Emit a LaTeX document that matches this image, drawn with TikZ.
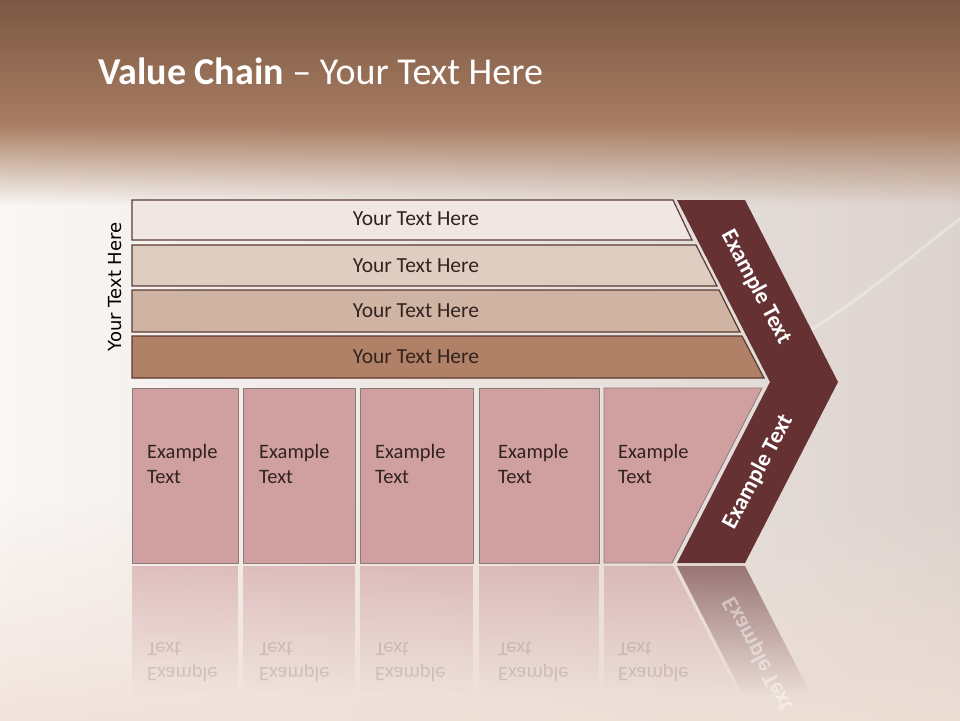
\documentclass[tikz,border=0pt]{standalone}
\usepackage{fontspec}
\setmainfont{Carlito}
\newfontfamily\vfont{DejaVu Sans}
\usetikzlibrary{fadings}
\definecolor{bandtop}{HTML}{7A5743}
\definecolor{bandbot}{HTML}{A87D62}
\definecolor{bgleft}{HTML}{FAF7F5}
\definecolor{bgright}{HTML}{DDD3CE}
\definecolor{bgpink}{HTML}{F0DFD6}
\definecolor{barA}{HTML}{F0E7E2}
\definecolor{barB}{HTML}{E0CDC2}
\definecolor{barC}{HTML}{CFB4A3}
\definecolor{barD}{HTML}{B08166}
\definecolor{barline}{HTML}{5A3B32}
\definecolor{boxfill}{HTML}{D0A0A1}
\definecolor{boxline}{HTML}{8A7A78}
\definecolor{chev}{HTML}{663133}
\definecolor{txtdark}{HTML}{33231F}
\tikzfading[name=fadedown, top color=transparent!0, bottom color=transparent!100]
\tikzfading[name=fadeup, top color=transparent!100, bottom color=transparent!0]
\tikzfading[name=reflfade, top color=transparent!40, bottom color=transparent!100]

\begin{document}
\begin{tikzpicture}[x=1pt,y=-1pt,
  bar/.style={draw=barline,line width=1.2pt},
  box/.style={draw=boxline,line width=0.8pt,fill=boxfill},
  bartext/.style={font=\fontsize{21.5}{26}\selectfont,text=txtdark},
  boxtext/.style={anchor=north west,align=left,inner sep=0pt,
    font=\fontsize{20.5}{25}\selectfont,text=txtdark},
  mirrored/.style={yscale=-1,transform shape,text opacity=0.15},
  chevtext/.style={font=\bfseries\fontsize{23}{26}\selectfont,text=white}]
\useasboundingbox (0,0) rectangle (960,720);
%background
\fill[left color=bgleft,right color=bgright] (-5,-5) rectangle (965,725);
\fill[bgpink,path fading=fadeup,opacity=0.8] (-5,500) rectangle (965,725);
\draw[white,opacity=0.3,line width=3pt] (965,215) .. controls (900,265) and (860,300) .. (810,330);
\fill[top color=bandtop,bottom color=bandbot] (-5,-5) rectangle (965,125);
\fill[bandbot,path fading=fadedown] (-5,124) rectangle (965,205);
\path (98,84) node[anchor=base west,inner sep=0pt,text=white,font=\fontsize{38}{44}\selectfont] (title)
  {\textbf{Value Chain} -- Your Text Here};
%bars
\draw[bar,fill=barA] (132,200) -- (673,200) -- (692,240) -- (132,240) -- cycle;
\draw[bar,fill=barB] (132,245) -- (696,245) -- (717,286) -- (132,286) -- cycle;
\draw[bar,fill=barC] (132,290) -- (719,290) -- (740,332) -- (132,332) -- cycle;
\draw[bar,fill=barD] (132,336) -- (742,336) -- (764,378) -- (132,378) -- cycle;
\path
(416,219) node[bartext] (y1) {Your Text Here}
(416,266) node[bartext] (y2) {Your Text Here}
(416,311) node[bartext] (y3) {Your Text Here}
(416,357) node[bartext] (y4) {Your Text Here}
(115,287) node[rotate=90,font=\vfont\fontsize{18}{22}\selectfont] (side) {Your Text Here};
%chevron
\fill[chev] (677,200) -- (745,200) -- (838,382) -- (745,563) -- (677,563) -- (770,382) -- cycle;
\path
(756,287) node[chevtext,rotate=-62] (c1) {Example Text}
(758,472) node[chevtext,rotate=62] (c2) {Example Text};
%boxes
\draw[box] (132,388) rectangle (238,563);
\draw[box] (243,388) rectangle (355,563);
\draw[box] (360,388) rectangle (473,563);
\draw[box] (479,388) rectangle (599,563);
\draw[box] (604,388) -- (762,388) -- (672,563) -- (604,563) -- cycle;
%reflection
\fill[boxfill,path fading=reflfade] (132,566) rectangle (238,695);
\fill[boxfill,path fading=reflfade] (243,566) rectangle (355,695);
\fill[boxfill,path fading=reflfade] (360,566) rectangle (473,695);
\fill[boxfill,path fading=reflfade] (479,566) rectangle (599,695);
\fill[boxfill,path fading=reflfade] (604,566) -- (673,566) -- (739,695) -- (604,695) -- cycle;
\fill[chev,path fading=reflfade] (677,566) -- (745,566) -- (811,695) -- (743,695) -- cycle;
\foreach \x/\n in {147/1,259/2,375/3,498/4,618/5}{
  \node[boxtext] (ex\n) at (\x,444) {Example\\Text};
  \node[boxtext,mirrored] (mx\n) at (\x,682) {Example\\Text};
}
\node[chevtext,yscale=-1,rotate=62,transform shape,text opacity=0.45] (c3) at (758,654) {Example Text};
\end{tikzpicture}
\end{document}
